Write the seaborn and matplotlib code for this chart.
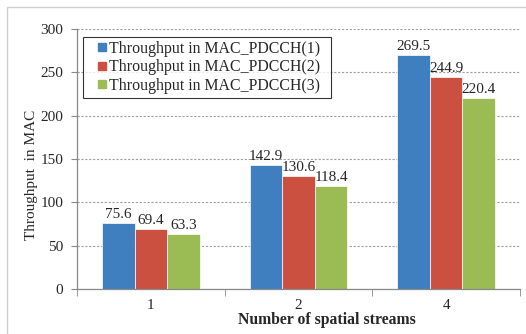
import matplotlib
matplotlib.use("Agg")
import matplotlib.pyplot as plt
import seaborn as sns
import pandas as pd
from matplotlib.patches import Rectangle
from matplotlib.lines import Line2D

categories = ["1", "2", "4"]
series_names = ["Throughput in MAC_PDCCH(1)", "Throughput in MAC_PDCCH(2)", "Throughput in MAC_PDCCH(3)"]
pdcch1 = [75.6, 142.9, 269.5]
pdcch2 = [69.4, 130.6, 244.9]
pdcch3 = [63.3, 118.4, 220.4]
y_ticks = [0, 50, 100, 150, 200, 250, 300]
colors = ["#3F7FBF", "#CC5040", "#9BBB55"]

rows = []
for name, vals in zip(series_names, [pdcch1, pdcch2, pdcch3]):
    for c, v in zip(categories, vals):
        rows.append({"streams": c, "value": v, "series": name})
df = pd.DataFrame(rows)

sns.set_style("white")
plt.rcParams["font.family"] = ["Liberation Serif", "DejaVu Serif"]

fig = plt.figure(figsize=(5.26, 3.34), dpi=100)
ax = fig.add_axes([77/526, 1 - 289/334, (520 - 77)/526, (289 - 29)/334])

sns.barplot(data=df, x="streams", y="value", hue="series", order=categories,
            hue_order=series_names, palette=colors, width=0.66, ax=ax,
            edgecolor="white", linewidth=0.5, saturation=1, errorbar=None, legend=False)

for cont in ax.containers:
    ax.bar_label(cont, labels=[f"{v:.1f}" for v in cont.datavalues], padding=1.5, fontsize=11)

ax.set_ylim(0, 300)
ax.set_xlim(-0.5, 2.5)
ax.set_yticks(y_ticks)
ax.yaxis.grid(True, linestyle=(0, (2, 1.5)), color="#a0a0a0", linewidth=0.8)
ax.set_axisbelow(True)
for s in ["top", "right"]:
    ax.spines[s].set_visible(False)
for s in ["left", "bottom"]:
    ax.spines[s].set_color("#888888")
    ax.spines[s].set_linewidth(0.9)

ax.tick_params(axis="y", length=4, direction="out", color="#888888", labelsize=11, pad=6, left=True)
ax.tick_params(axis="x", which="major", length=0, labelsize=11, pad=7)
ax.set_xticks([-0.5, 0.5, 1.5, 2.5], minor=True)
ax.tick_params(axis="x", which="minor", length=5, direction="out", color="#888888", bottom=True)

ax.set_xlabel("Number of spatial streams", fontsize=11.3, fontweight="bold")
ax.xaxis.set_label_coords(0.565, -0.088)
ax.set_ylabel("Throughput  in MAC", fontsize=11)
ax.yaxis.set_label_coords(-0.088, 0.44)

handles = [Line2D([], [], linestyle="none", marker="s", markersize=5.5,
                  markerfacecolor=c, markeredgecolor=c) for c in colors]
leg = ax.legend(handles, series_names, loc="upper left",
                bbox_to_anchor=(0.0135, 0.5, 0.56, 0.469), mode="expand",
                fontsize=11.4, frameon=True, fancybox=False, edgecolor="black",
                handlelength=1.9, handletextpad=-0.5, borderpad=0.25,
                labelspacing=0.15, borderaxespad=0)
leg.get_frame().set_linewidth(0.8)

fig.patches.append(Rectangle((7/526, -0.1), 1.2, 1 - 7/334 + 0.1, transform=fig.transFigure,
                             fill=False, edgecolor="#d0d0d0", linewidth=1))

fig.savefig("out.png", dpi=100)
